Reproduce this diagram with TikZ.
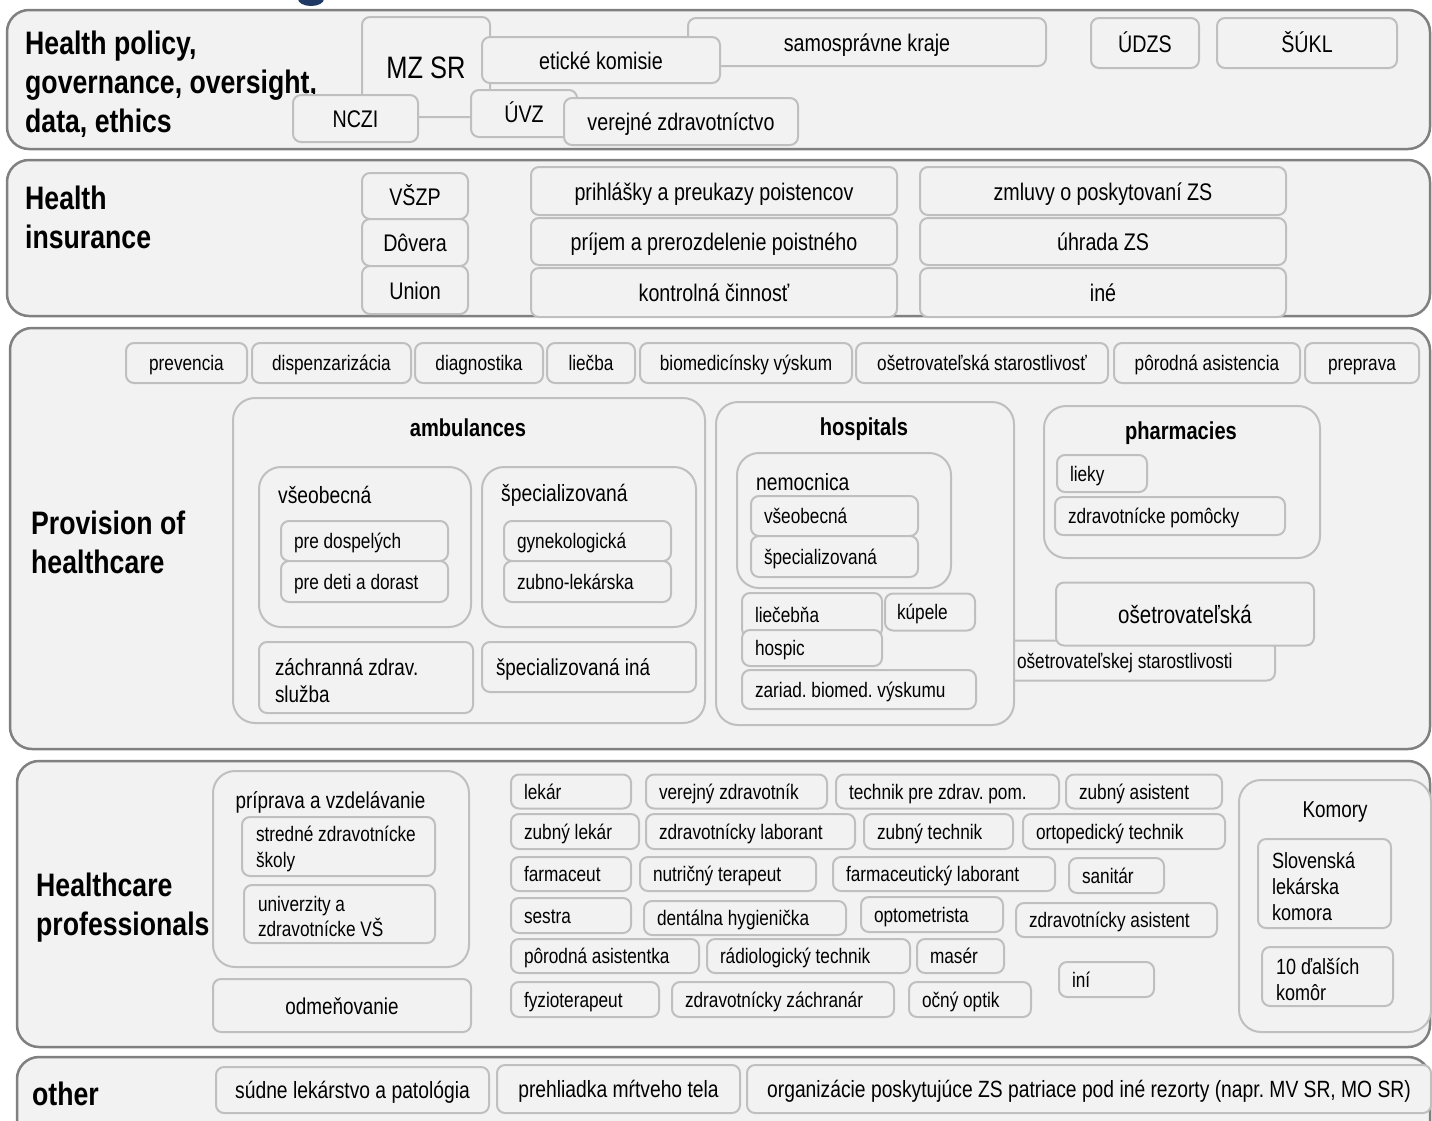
\documentclass[tikz,border=0pt]{standalone}
\usepackage{fontspec}
\setmainfont[FakeStretch=0.82]{Liberation Sans}
\usetikzlibrary{positioning}
\definecolor{boxfill}{HTML}{F2F2F2}
\definecolor{boxline}{HTML}{BFBFBF}
\definecolor{bandline}{HTML}{808080}
\definecolor{navyblob}{HTML}{1F3864}
\newcommand\fpol{\fontsize{24}{29}\selectfont}
\newcommand\fsml{\fontsize{21}{25.5}\selectfont}
\newcommand\fmid{\fontsize{23}{27}\selectfont}
\newcommand\fsub{\fontsize{23.5}{28}\selectfont}
\newcommand\fkom{\fontsize{22}{26}\selectfont}
\newcommand\fbig{\fontsize{31}{36}\selectfont}
\newcommand\fosetr{\fontsize{25}{30}\selectfont}
\newcommand\fgrp{\fontsize{24.5}{29}\selectfont\bfseries}
\newcommand\fhead{\fontsize{32.5}{39}\selectfont\bfseries}
\tikzset{
  band/.style={draw=bandline, fill=boxfill, line width=2.5pt, rounded corners=22pt, inner sep=0pt},
  grp/.style={draw=boxline, fill=boxfill, line width=2pt, rounded corners=22pt, inner sep=0pt},
  box/.style={draw=boxline, fill=boxfill, line width=2pt, rounded corners=8pt, inner sep=0pt,
    align=flush center, font=\fsml, execute at begin node={\rule[-.22em]{0pt}{1.2em}}},
  lbox/.style={box, align=flush left, inner xsep=13pt},
  wh/.style 2 args={minimum width=#1, minimum height=#2},
  head/.style={font=\fhead, align=flush left, anchor=west, inner sep=0pt},
  grplbl/.style={font=\fgrp, inner sep=0pt},
  sublbl/.style={font=\fsub, anchor=west, inner sep=0pt},
}
\begin{document}
\frenchspacing\hyphenpenalty=10000
\begin{tikzpicture}[x=1pt, y=-1pt]
  \useasboundingbox (0,0) rectangle (1432,1120);
  \fill[navyblob] (311,-1) ellipse [x radius=13pt, y radius=7pt];
  % bands
  \node[band, wh={1423}{139}] (policy) at (718.5,79.5) {};
  \node[band, wh={1423}{156}] (insur) at (718.5,238) {};
  \node[band, wh={1420}{421}] (provis) at (720,538.5) {};
  \node[band, wh={1413}{286}] (prof) at (723.5,904) {};
  \node[band, wh={1413}{90}] (other) at (723.5,1102) {};
  \node[head] (policyT) at (25,84) {Health policy,\\governance, oversight,\\data, ethics};
  \node[head] (insurT) at (25,217) {Health\\insurance};
  \node[head] (provisT) at (31,542) {Provision of\\healthcare};
  \node[head] (profT) at (36,908) {Healthcare\\professionals};
  \node[head] (otherT) at (32,1094) {other};
  % policy, governance
  \tikzset{box/.append style={font=\fpol}}
  \node[box, wh={128}{100}, font=\fbig] (mzsr) at (426,67) {MZ SR};
  \node[box, wh={358}{48}] (kraje) at (867,42) {samosprávne kraje};
  \node[box, wh={238}{46}] (etika) at (601,60) {etické komisie};
  \node[box, wh={108}{50}] (udzs) at (1145,43) {ÚDZS};
  \node[box, wh={180}{50}] (sukl) at (1307,43) {ŠÚKL};
  \node[box, wh={125}{47}] (nczi) at (355.5,118.5) {NCZI};
  \node[box, wh={106}{47}] (uvz) at (524,113.5) {ÚVZ};
  \node[box, wh={234}{47}] (vz) at (681,121.5) {verejné zdravotníctvo};
  % insurance
  \node[box, wh={106}{46}] (vszp) at (415,196) {VŠZP};
  \node[box, wh={106}{47}] (dovera) at (415,242.5) {Dôvera};
  \node[box, wh={106}{48}] (union) at (415,290) {Union};
  \node[box, wh={366}{48}] (prihl) at (714,191) {prihlášky a preukazy poistencov};
  \node[box, wh={366}{47}] (prijem) at (714,241.5) {príjem a prerozdelenie poistného};
  \node[box, wh={366}{49}] (kontr) at (714,292.5) {kontrolná činnosť};
  \node[box, wh={366}{48}] (zmluvy) at (1103,191) {zmluvy o poskytovaní ZS};
  \node[box, wh={366}{47}] (uhrada) at (1103,241.5) {úhrada ZS};
  \node[box, wh={366}{49}] (ine) at (1103,292.5) {iné};
  % provision: activities
  \tikzset{box/.append style={font=\fsml}}
  \node[box, wh={121}{40}] (prev) at (186.5,363) {prevencia};
  \node[box, wh={159}{40}] (disp) at (331.5,363) {dispenzarizácia};
  \node[box, wh={128}{40}] (diag) at (479,363) {diagnostika};
  \node[box, wh={88}{40}] (liecba) at (591,363) {liečba};
  \node[box, wh={212}{40}] (biomed) at (746,363) {biomedicínsky výskum};
  \node[box, wh={252}{40}] (osst) at (982,363) {ošetrovateľská starostlivosť};
  \node[box, wh={186}{40}] (porod) at (1207,363) {pôrodná asistencia};
  \node[box, wh={114}{40}] (prepr) at (1362,363) {preprava};
  % provision: groups
  \node[grp, wh={472}{325}] (ambul) at (469,560.5) {};
  \node[lbox, wh={275}{40}, inner xsep=17pt, text width=241pt] (osestar) at (1137.5,660.5) {ošetrovateľskej starostlivosti};
  \node[grp, wh={298}{323}] (hosp) at (865,563.5) {};
  \node[grp, wh={276}{152}] (pharm) at (1182,482) {};
  \node[box, wh={258}{63}, font=\fosetr] (osetr) at (1185,614) {ošetrovateľská};
  % ambulances
  \node[grplbl] (ambulT) at (468,428) {ambulances};
  \node[grp, wh={212}{160}] (vseob) at (365,547) {};
  \node[sublbl] (vseobT) at (278,495) {všeobecná};
  \node[lbox, wh={167}{40}, text width=141pt] (dosp) at (364.5,541) {pre dospelých};
  \node[lbox, wh={167}{41}, text width=141pt] (deti) at (364.5,581.5) {pre deti a dorast};
  \node[grp, wh={214}{160}] (spec) at (589,547) {};
  \node[sublbl] (specT) at (501,495) {špecializovaná};
  \node[lbox, wh={167}{40}, text width=141pt] (gyn) at (587.5,541) {gynekologická};
  \node[lbox, wh={167}{41}, text width=141pt] (zubno) at (587.5,581.5) {zubno-lekárska};
  \node[lbox, wh={214}{71}, inner xsep=16pt, text width=182pt, font=\fmid] (zachr) at (366,677.5) {záchranná zdrav.\\služba};
  \node[lbox, wh={214}{50}, inner xsep=14pt, text width=186pt, font=\fmid] (specina) at (589,667) {špecializovaná iná};
  % hospitals
  \node[grplbl] (hospT) at (864,429) {hospitals};
  \node[grp, wh={214}{135}] (nemoc) at (844,520.5) {};
  \node[sublbl] (nemocT) at (756,482) {nemocnica};
  \node[lbox, wh={167}{40}, text width=141pt] (hvseob) at (834.5,516) {všeobecná};
  \node[lbox, wh={167}{41}, text width=141pt] (hspec) at (834.5,556.5) {špecializovaná};
  \node[lbox, wh={140}{44}, text width=114pt] (liecebna) at (812,615) {liečebňa};
  \node[lbox, wh={90}{37}, inner xsep=12pt, text width=66pt] (kupele) at (930,612) {kúpele};
  \node[lbox, wh={140}{36}, text width=114pt] (hospic) at (812,648) {hospic};
  \node[lbox, wh={234}{39}, text width=208pt] (zariad) at (859,689.5) {zariad. biomed. výskumu};
  % pharmacies
  \node[grplbl] (pharmT) at (1181,433) {pharmacies};
  \node[lbox, wh={90}{37}, text width=64pt] (lieky) at (1102,473.5) {lieky};
  \node[lbox, wh={230}{38}, text width=204pt] (pomoc) at (1170,516) {zdravotnícke pomôcky};
  % professionals: education, chambers
  \node[grp, wh={256}{196}] (prip) at (341,869) {};
  \node[font=\fmid, inner sep=0pt] (pripT) at (330.5,802) {príprava a vzdelávanie};
  \node[lbox, wh={193}{59}, inner xsep=14pt, text width=165pt] (stredne) at (338.5,846.5) {stredné zdravotnícke\\školy};
  \node[lbox, wh={191}{58}, inner xsep=14pt, text width=163pt] (univ) at (339.5,914) {univerzity a\\zdravotnícke VŠ};
  \node[box, wh={258}{53}, font=\fmid] (odmen) at (342,1005.5) {odmeňovanie};
  \node[grp, wh={192}{252}] (komory) at (1335,906) {};
  \node[font=\fmid, inner sep=0pt] (komoryT) at (1335,812) {Komory};
  \node[lbox, wh={133}{89}, inner xsep=14pt, text width=105pt, font=\fkom] (slk) at (1324.5,883.5) {Slovenská\\lekárska\\komora};
  \node[lbox, wh={131}{59}, inner xsep=14pt, text width=103pt, font=\fkom] (dalsie) at (1327.5,976.5) {10 ďalších\\komôr};
  % professionals: professions
  \node[lbox, wh={120}{34}, text width=94pt] (lekar) at (571,791.5) {lekár};
  \node[lbox, wh={181}{34}, text width=155pt] (verzdr) at (736.5,791.5) {verejný zdravotník};
  \node[lbox, wh={223}{34}, text width=197pt] (techpom) at (947.5,791.5) {technik pre zdrav. pom.};
  \node[lbox, wh={156}{34}, text width=130pt] (zubas) at (1144,791.5) {zubný asistent};
  \node[lbox, wh={128}{35}, text width=102pt] (zublek) at (575,831.5) {zubný lekár};
  \node[lbox, wh={209}{35}, text width=183pt] (zdrlab) at (750.5,831.5) {zdravotnícky laborant};
  \node[lbox, wh={149}{35}, text width=123pt] (zubtech) at (938.5,831.5) {zubný technik};
  \node[lbox, wh={202}{35}, text width=176pt] (ortop) at (1124,831.5) {ortopedický technik};
  \node[lbox, wh={120}{34}, text width=94pt] (farm) at (571,874) {farmaceut};
  \node[lbox, wh={176}{34}, text width=150pt] (nutr) at (728,874) {nutričný terapeut};
  \node[lbox, wh={222}{34}, text width=196pt] (farmlab) at (944,874) {farmaceutický laborant};
  \node[lbox, wh={95}{35}, text width=69pt] (sanit) at (1116.5,875.5) {sanitár};
  \node[lbox, wh={120}{35}, text width=94pt] (sestra) at (571,915.5) {sestra};
  \node[lbox, wh={202}{34}, text width=176pt] (dent) at (745,918) {dentálna hygienička};
  \node[lbox, wh={142}{35}, text width=116pt] (optom) at (932,914.5) {optometrista};
  \node[lbox, wh={201}{34}, text width=175pt] (zdras) at (1116.5,920) {zdravotnícky asistent};
  \node[lbox, wh={188}{34}, text width=162pt] (porodas) at (605,956) {pôrodná asistentka};
  \node[lbox, wh={203}{34}, text width=177pt] (radio) at (808.5,956) {rádiologický technik};
  \node[lbox, wh={87}{34}, text width=61pt] (maser) at (960.5,956) {masér};
  \node[lbox, wh={148}{35}, text width=122pt] (fyzio) at (585,999.5) {fyzioterapeut};
  \node[lbox, wh={222}{35}, text width=196pt] (zachranar) at (783,999.5) {zdravotnícky záchranár};
  \node[lbox, wh={122}{35}, text width=96pt] (optik) at (970,999.5) {očný optik};
  \node[lbox, wh={95}{35}, text width=69pt] (ini) at (1106.5,979.5) {iní};
  % other
  \tikzset{box/.append style={font=\fsub}}
  \node[box, wh={273}{46}] (sudne) at (352.5,1090) {súdne lekárstvo a patológia};
  \node[box, wh={243}{48}] (prehl) at (618.5,1089) {prehliadka mŕtveho tela};
  \node[box, wh={684}{48}] (rezorty) at (1089,1089) {organizácie poskytujúce ZS patriace pod iné rezorty (napr. MV SR, MO SR)};
\end{tikzpicture}
\end{document}
